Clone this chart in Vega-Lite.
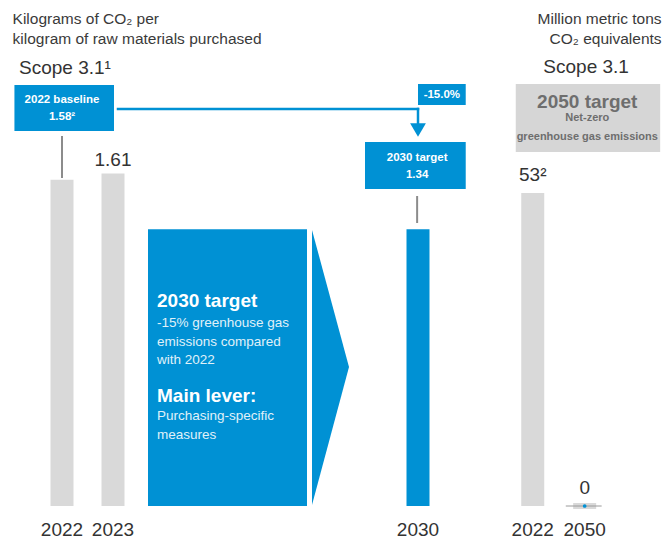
{
  "$schema": "https://vega.github.io/schema/vega-lite/v6.json",
  "padding": 0,
  "spacing": 0,
  "config": {"view": {"stroke": null}, "font": "Liberation Sans"},
  "datasets": {
    "intensity": [
      {"year": 2022, "value": 1.58, "status": "actual", "label": ""},
      {"year": 2023, "value": 1.61, "status": "actual", "label": "1.61"},
      {"year": 2030, "value": 1.34, "status": "target", "label": ""}
    ],
    "emissions": [
      {"year": 2022, "value": 53, "label": "53²"},
      {"year": 2050, "value": 0, "label": "0"}
    ],
    "leftYears": [
      {"x": 2022, "y": -0.1162, "text": "2022"},
      {"x": 2023, "y": -0.1162, "text": "2023"},
      {"x": 2030, "y": -0.1162, "text": "2030"}
    ],
    "rightYears": [
      {"x": 2022, "y": -4.064, "text": "2022"},
      {"x": 2050, "y": -4.064, "text": "2050"}
    ],
    "leftBlueBoxes": [
      {"x": 2020.9804, "x2": 2023.023, "y": 2.0387, "y2": 1.816},
      {"x": 2030, "x2": 2031.1705, "y": 2.0436, "y2": 1.9419},
      {"x": 2028.7836, "x2": 2031.1705, "y": 1.7627, "y2": 1.5351},
      {"x": 2023.8033, "x2": 2027.4525, "y": 1.34, "y2": 0}
    ],
    "leftArrowHead": [
      {"x": 2027.5672, "y": 1.3366, "y2": 0.0048},
      {"x": 2028.4164, "y": 0.6731, "y2": 0.6731}
    ],
    "blueElbow": [
      {"x": 2023.1148, "x2": 2030, "y": 1.9225, "y2": 1.9225},
      {"x": 2030, "x2": 2030, "y": 1.9225, "y2": 1.8499}
    ],
    "elbowTip": [{"x": 2030, "y": 1.8208}],
    "grayConnectors": [
      {"x": 2022, "x2": 2022, "y": 1.7918, "y2": 1.5884},
      {"x": 2029.98, "x2": 2029.98, "y": 1.5012, "y2": 1.3705}
    ],
    "boxText": [
      {"x": 2022, "y": 1.9661, "text": "2022 baseline"},
      {"x": 2022, "y": 1.8838, "text": "1.58²"},
      {"x": 2030.5852, "y": 1.9903, "text": "-15.0%"},
      {"x": 2029.98, "y": 1.6852, "text": "2030 target"},
      {"x": 2029.98, "y": 1.6029, "text": "1.34"}
    ],
    "bigBoxHeads": [
      {"x": 2024.0098, "y": 0.9927, "text": "2030 target"},
      {"x": 2024.0098, "y": 0.5327, "text": "Main lever:"}
    ],
    "bigBoxBody": [
      {"x": 2024.0098, "y": 0.8862, "text": "-15% greenhouse gas"},
      {"x": 2024.0098, "y": 0.7942, "text": "emissions compared"},
      {"x": 2024.0098, "y": 0.707, "text": "with 2022"},
      {"x": 2024.0098, "y": 0.4358, "text": "Purchasing-specific"},
      {"x": 2024.0098, "y": 0.3438, "text": "measures"}
    ],
    "leftTitle": [
      {"x": 2020.941, "y": 2.3584, "text": "Kilograms of CO₂ per"},
      {"x": 2020.941, "y": 2.2615, "text": "kilogram of raw materials purchased"}
    ],
    "leftScope": [{"x": 2021.078, "y": 2.1196, "text": "Scope 3.1¹"}],
    "rightGrayBox": [{"x": 2012.836, "x2": 2090.727, "y": 71.457, "y2": 59.943}],
    "rightBoxHead": [{"x": 2051.4, "y": 68.46, "text": "2050 target"}],
    "rightBoxBody": [
      {"x": 2051.4, "y": 65.65, "text": "Net-zero"},
      {"x": 2051.4, "y": 62.53, "text": "greenhouse gas emissions"}
    ],
    "zeroLine": [{"x": 2039.817, "x2": 2059.163, "y": 0}],
    "rightTitle": [
      {"x": 2091.5, "y": 82.46, "text": "Million metric tons"},
      {"x": 2091.5, "y": 79.02, "text": "CO₂ equivalents"}
    ],
    "rightScope": [{"x": 2050.8, "y": 74.335, "text": "Scope 3.1"}]
  },
  "hconcat": [
    {
      "width": 490,
      "height": 542,
      "layer": [
        {
          "data": {"name": "intensity"},
          "mark": {"type": "bar", "size": 23},
          "encoding": {
            "x": {
              "field": "year", "type": "quantitative",
              "scale": {"domain": [2020.7843, 2022, 2023, 2030, 2031.6525], "range": [0, 62, 113, 418, 490], "nice": false, "zero": false},
              "axis": null
            },
            "y": {"field": "value", "type": "quantitative", "scale": {"domain": [-0.1743, 2.4504], "nice": false}, "axis": null},
            "y2": {"datum": 0},
            "color": {"field": "status", "type": "nominal", "scale": {"domain": ["actual", "target"], "range": ["#d9d9d9", "#0091d4"]}, "legend": null}
          }
        },
        {
          "data": {"name": "leftYears"},
          "mark": {"type": "text", "fontSize": 19, "baseline": "middle", "color": "#333333"},
          "encoding": {
            "x": {"field": "x", "type": "quantitative", "axis": null},
            "y": {"field": "y", "type": "quantitative", "axis": null},
            "text": {"field": "text"}
          }
        },
        {
          "data": {"name": "intensity"},
          "transform": [{"filter": "datum.label != ''"}],
          "mark": {"type": "text", "fontSize": 19, "baseline": "bottom", "dy": -4, "color": "#333333"},
          "encoding": {
            "x": {"field": "year", "type": "quantitative", "axis": null},
            "y": {"field": "value", "type": "quantitative", "axis": null},
            "text": {"field": "label"}
          }
        },
        {
          "data": {"name": "leftBlueBoxes"},
          "mark": {"type": "rect", "color": "#0091d4"},
          "encoding": {
            "x": {"field": "x", "type": "quantitative", "axis": null},
            "x2": {"field": "x2"},
            "y": {"field": "y", "type": "quantitative", "axis": null},
            "y2": {"field": "y2"}
          }
        },
        {
          "data": {"name": "leftArrowHead"},
          "mark": {"type": "area", "color": "#0091d4"},
          "encoding": {
            "x": {"field": "x", "type": "quantitative", "axis": null},
            "y": {"field": "y", "type": "quantitative", "axis": null},
            "y2": {"field": "y2"}
          }
        },
        {
          "data": {"name": "blueElbow"},
          "mark": {"type": "rule", "color": "#0091d4", "strokeWidth": 2.5, "strokeCap": "square"},
          "encoding": {
            "x": {"field": "x", "type": "quantitative", "axis": null},
            "x2": {"field": "x2"},
            "y": {"field": "y", "type": "quantitative", "axis": null},
            "y2": {"field": "y2"}
          }
        },
        {
          "data": {"name": "elbowTip"},
          "mark": {"type": "point", "shape": "triangle-down", "filled": true, "size": 250, "color": "#0091d4", "opacity": 1},
          "encoding": {
            "x": {"field": "x", "type": "quantitative", "axis": null},
            "y": {"field": "y", "type": "quantitative", "axis": null}
          }
        },
        {
          "data": {"name": "grayConnectors"},
          "mark": {"type": "rule", "color": "#8c8c8c", "strokeWidth": 2},
          "encoding": {
            "x": {"field": "x", "type": "quantitative", "axis": null},
            "x2": {"field": "x2"},
            "y": {"field": "y", "type": "quantitative", "axis": null},
            "y2": {"field": "y2"}
          }
        },
        {
          "data": {"name": "boxText"},
          "mark": {"type": "text", "fontWeight": "bold", "fontSize": 11.5, "color": "#ffffff", "align": "center", "baseline": "middle"},
          "encoding": {
            "x": {"field": "x", "type": "quantitative", "axis": null},
            "y": {"field": "y", "type": "quantitative", "axis": null},
            "text": {"field": "text"}
          }
        },
        {
          "data": {"name": "bigBoxHeads"},
          "mark": {"type": "text", "fontWeight": "bold", "fontSize": 19, "color": "#ffffff", "align": "left", "baseline": "middle"},
          "encoding": {
            "x": {"field": "x", "type": "quantitative", "axis": null},
            "y": {"field": "y", "type": "quantitative", "axis": null},
            "text": {"field": "text"}
          }
        },
        {
          "data": {"name": "bigBoxBody"},
          "mark": {"type": "text", "fontSize": 13.5, "color": "#ffffff", "opacity": 0.88, "align": "left", "baseline": "middle"},
          "encoding": {
            "x": {"field": "x", "type": "quantitative", "axis": null},
            "y": {"field": "y", "type": "quantitative", "axis": null},
            "text": {"field": "text"}
          }
        },
        {
          "data": {"name": "leftTitle"},
          "mark": {"type": "text", "fontSize": 15.5, "color": "#3a3a3a", "align": "left", "baseline": "middle"},
          "encoding": {
            "x": {"field": "x", "type": "quantitative", "axis": null},
            "y": {"field": "y", "type": "quantitative", "axis": null},
            "text": {"field": "text"}
          }
        },
        {
          "data": {"name": "leftScope"},
          "mark": {"type": "text", "fontSize": 19, "color": "#333333", "align": "left", "baseline": "middle"},
          "encoding": {
            "x": {"field": "x", "type": "quantitative", "axis": null},
            "y": {"field": "y", "type": "quantitative", "axis": null},
            "text": {"field": "text"}
          }
        }
      ]
    },
    {
      "width": 178,
      "height": 542,
      "layer": [
        {
          "data": {"name": "emissions"},
          "transform": [{"filter": "datum.value > 0"}],
          "mark": {"type": "bar", "size": 23, "color": "#d9d9d9"},
          "encoding": {
            "x": {
              "field": "year", "type": "quantitative",
              "scale": {"domain": [2001.636, 2092.2545], "nice": false, "zero": false},
              "axis": null
            },
            "y": {"field": "value", "type": "quantitative", "scale": {"domain": [-6.0958, 85.68], "nice": false}, "axis": null},
            "y2": {"datum": 0}
          }
        },
        {
          "data": {"name": "rightYears"},
          "mark": {"type": "text", "fontSize": 19, "baseline": "middle", "color": "#333333"},
          "encoding": {
            "x": {"field": "x", "type": "quantitative", "axis": null},
            "y": {"field": "y", "type": "quantitative", "axis": null},
            "text": {"field": "text"}
          }
        },
        {
          "data": {"name": "emissions"},
          "transform": [{"filter": "datum.value == 0"}],
          "mark": {"type": "tick", "orient": "horizontal", "size": 23, "thickness": 6, "color": "#d9d9d9", "opacity": 1},
          "encoding": {
            "x": {"field": "year", "type": "quantitative", "axis": null},
            "y": {"field": "value", "type": "quantitative", "axis": null}
          }
        },
        {
          "data": {"name": "zeroLine"},
          "mark": {"type": "rule", "color": "#9a9a9a", "strokeWidth": 1},
          "encoding": {
            "x": {"field": "x", "type": "quantitative", "axis": null},
            "x2": {"field": "x2"},
            "y": {"field": "y", "type": "quantitative", "axis": null}
          }
        },
        {
          "data": {"name": "emissions"},
          "transform": [{"filter": "datum.value == 0"}],
          "mark": {"type": "point", "shape": "circle", "filled": true, "size": 14, "color": "#0091d4", "opacity": 1},
          "encoding": {
            "x": {"field": "year", "type": "quantitative", "axis": null},
            "y": {"field": "value", "type": "quantitative", "axis": null}
          }
        },
        {
          "data": {"name": "emissions"},
          "mark": {"type": "text", "fontSize": 19, "baseline": "bottom", "dy": -8, "color": "#333333"},
          "encoding": {
            "x": {"field": "year", "type": "quantitative", "axis": null},
            "y": {"field": "value", "type": "quantitative", "axis": null},
            "text": {"field": "label"}
          }
        },
        {
          "data": {"name": "rightGrayBox"},
          "mark": {"type": "rect", "color": "#d6d6d6"},
          "encoding": {
            "x": {"field": "x", "type": "quantitative", "axis": null},
            "x2": {"field": "x2"},
            "y": {"field": "y", "type": "quantitative", "axis": null},
            "y2": {"field": "y2"}
          }
        },
        {
          "data": {"name": "rightBoxHead"},
          "mark": {"type": "text", "fontWeight": "bold", "fontSize": 19, "color": "#6e6e6e", "align": "center", "baseline": "middle"},
          "encoding": {
            "x": {"field": "x", "type": "quantitative", "axis": null},
            "y": {"field": "y", "type": "quantitative", "axis": null},
            "text": {"field": "text"}
          }
        },
        {
          "data": {"name": "rightBoxBody"},
          "mark": {"type": "text", "fontWeight": "bold", "fontSize": 11, "color": "#6e6e6e", "align": "center", "baseline": "middle"},
          "encoding": {
            "x": {"field": "x", "type": "quantitative", "axis": null},
            "y": {"field": "y", "type": "quantitative", "axis": null},
            "text": {"field": "text"}
          }
        },
        {
          "data": {"name": "rightTitle"},
          "mark": {"type": "text", "fontSize": 15.5, "color": "#3a3a3a", "align": "right", "baseline": "middle"},
          "encoding": {
            "x": {"field": "x", "type": "quantitative", "axis": null},
            "y": {"field": "y", "type": "quantitative", "axis": null},
            "text": {"field": "text"}
          }
        },
        {
          "data": {"name": "rightScope"},
          "mark": {"type": "text", "fontSize": 19, "color": "#333333", "align": "center", "baseline": "middle"},
          "encoding": {
            "x": {"field": "x", "type": "quantitative", "axis": null},
            "y": {"field": "y", "type": "quantitative", "axis": null},
            "text": {"field": "text"}
          }
        }
      ]
    }
  ]
}
